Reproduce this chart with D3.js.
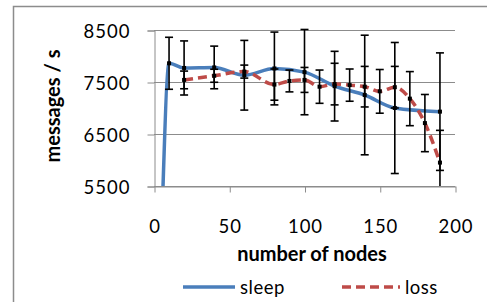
<!DOCTYPE html>
<html>
<head>
<meta charset="utf-8">
<script src="https://cdn.jsdelivr.net/npm/d3@7"></script>
<style>
  body { margin: 0; background: #fff; }
  text { font-family: Lato, "Open Sans", sans-serif; fill: #000; }
</style>
</head>
<body>
<div id="chart"></div>
<script>
// data
const sleepX = [6, 10, 20, 40, 60, 80, 100, 120, 140, 160, 190];
const sleepY = [5500, 7860, 7770, 7780, 7630, 7760, 7690, 7420, 7250, 7000, 6930];
const sleepErr = [null, 500, 520, 410, 670, 700, 820, 670, 1150, 1260, 1130];

const lossX = [20, 40, 60, 80, 90, 100, 110, 120, 130, 140, 150, 160, 170, 180, 190];
const lossY = [7540, 7620, 7700, 7450, 7520, 7540, 7410, 7460, 7440, 7410, 7320, 7400, 7180, 6710, 5950];
const lossErr = [170, 125, 125, 300, 210, 240, 320, 400, 310, 390, 420, 400, 520, 550, 620];

const xTicks = [0, 50, 100, 150, 200];
const yTicks = [5500, 6500, 7500, 8500];

const W = 487, H = 302;
const plot = { left: 154, right: 455, top: 30, bottom: 186 };

const svg = d3.select("#chart").append("svg")
  .attr("width", W).attr("height", H);

// outer chart border
svg.append("rect")
  .attr("x", 13.5).attr("y", 6.5)
  .attr("width", W).attr("height", H)
  .attr("fill", "none").attr("stroke", "#8c8c8c").attr("stroke-width", 1.5);

const x = d3.scaleLinear().domain([0, 200]).range([plot.left, plot.right]);
const y = d3.scaleLinear().domain([5500, 8500]).range([plot.bottom, plot.top]);

svg.append("clipPath").attr("id", "clip")
  .append("rect")
  .attr("x", plot.left).attr("y", plot.top - 5)
  .attr("width", plot.right - plot.left).attr("height", plot.bottom - plot.top + 5);

// gridlines
svg.append("g")
  .selectAll("line")
  .data(yTicks)
  .join("line")
    .attr("x1", plot.left).attr("x2", plot.right)
    .attr("y1", d => y(d) + 0.5).attr("y2", d => y(d) + 0.5)
    .attr("stroke", "#8c8c8c").attr("stroke-width", 1);

// y axis
const yAxis = svg.append("g")
  .attr("transform", `translate(${plot.left + 0.5},0.5)`)
  .call(d3.axisLeft(y).tickValues(yTicks).tickSize(7).tickPadding(17).tickFormat(d3.format("d")));
yAxis.select(".domain").attr("stroke", "#8c8c8c");
yAxis.selectAll(".tick line").attr("stroke", "#8c8c8c");
yAxis.selectAll(".tick text")
  .attr("font-size", 18.5).attr("letter-spacing", 1).attr("dy", "0.36em")
  .attr("font-family", "Lato, 'Open Sans', sans-serif");

// x axis
const xAxis = svg.append("g")
  .attr("transform", `translate(0.5,${plot.bottom + 0.5})`)
  .call(d3.axisBottom(x).tickValues(xTicks).tickSize(6).tickPadding(27).tickSizeOuter(0));
xAxis.select(".domain").attr("stroke", "#8c8c8c");
xAxis.selectAll(".tick line").attr("stroke", "#8c8c8c");
xAxis.selectAll(".tick text")
  .attr("font-size", 18.5).attr("letter-spacing", 1)
  .attr("font-family", "Lato, 'Open Sans', sans-serif");

// axis titles
svg.append("text")
  .attr("x", 312).attr("y", 261)
  .attr("text-anchor", "middle")
  .attr("font-size", 20).attr("font-weight", "bold")
  .text("number of nodes");

svg.append("text")
  .attr("transform", "translate(60,106) rotate(-90)")
  .attr("text-anchor", "middle")
  .attr("font-size", 20).attr("font-weight", "bold")
  .text("messages / s");

const sleep = sleepX.map((d, i) => ({ x: d, y: sleepY[i], e: sleepErr[i] }));
const loss = lossX.map((d, i) => ({ x: d, y: lossY[i], e: lossErr[i] }));

const line = d3.line()
  .x(d => x(d.x))
  .y(d => y(d.y))
  .curve(d3.curveMonotoneX);

const g = svg.append("g").attr("clip-path", "url(#clip)");

g.append("path")
  .datum(sleep)
  .attr("fill", "none")
  .attr("stroke", "#4a7ebb")
  .attr("stroke-width", 3.5)
  .attr("d", line);

g.append("path")
  .datum(loss)
  .attr("fill", "none")
  .attr("stroke", "#be4b48")
  .attr("stroke-width", 3.5)
  .attr("stroke-dasharray", "9,5")
  .attr("d", line);

// error bars
const withErr = sleep.concat(loss).filter(d => d.e != null);
const bars = g.append("g").attr("stroke", "#000").attr("stroke-width", 1.6);
bars.selectAll(".v")
  .data(withErr)
  .join("line")
    .attr("x1", d => x(d.x)).attr("x2", d => x(d.x))
    .attr("y1", d => y(d.y + d.e)).attr("y2", d => y(d.y - d.e));
bars.selectAll(".top")
  .data(withErr)
  .join("line")
    .attr("x1", d => x(d.x) - 4).attr("x2", d => x(d.x) + 4)
    .attr("y1", d => y(d.y + d.e)).attr("y2", d => y(d.y + d.e));
bars.selectAll(".bot")
  .data(withErr)
  .join("line")
    .attr("x1", d => x(d.x) - 4).attr("x2", d => x(d.x) + 4)
    .attr("y1", d => y(d.y - d.e)).attr("y2", d => y(d.y - d.e));

// point markers
g.append("g")
  .selectAll("rect")
  .data(withErr)
  .join("rect")
    .attr("x", d => x(d.x) - 2).attr("y", d => y(d.y) - 2)
    .attr("width", 4).attr("height", 4)
    .attr("fill", "#000");

// legend
const legend = [
  { name: "sleep", color: "#4a7ebb", dash: null, x1: 183, x2: 235 },
  { name: "loss", color: "#be4b48", dash: "9,5", x1: 342, x2: 400 }
];
const lg = svg.append("g");
lg.selectAll("line")
  .data(legend)
  .join("line")
    .attr("x1", d => d.x1).attr("x2", d => d.x2)
    .attr("y1", 287).attr("y2", 287)
    .attr("stroke", d => d.color).attr("stroke-width", 3.5)
    .attr("stroke-dasharray", d => d.dash);
lg.selectAll("text")
  .data(legend)
  .join("text")
    .attr("x", d => d.x2 + 5).attr("y", 294)
    .attr("font-size", 18.5).attr("letter-spacing", 0.5)
    .text(d => d.name);
</script>
</body>
</html>
